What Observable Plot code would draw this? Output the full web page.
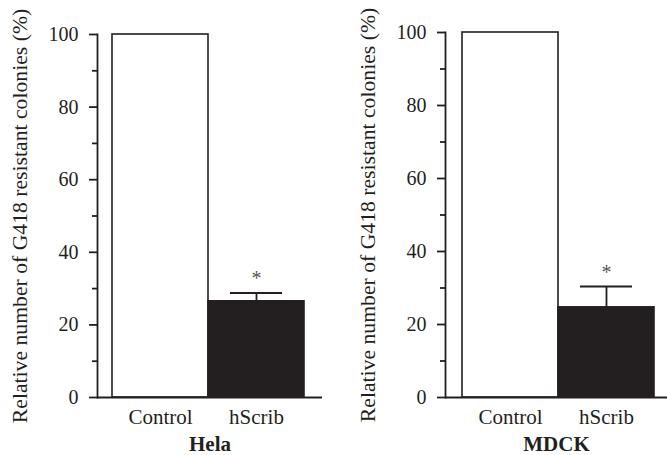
<!DOCTYPE html>
<html>
<head>
<meta charset="utf-8">
<script src="https://cdn.jsdelivr.net/npm/d3@7"></script>
<script src="https://cdn.jsdelivr.net/npm/@observablehq/plot@0.6"></script>
<style>
  html, body { margin: 0; padding: 0; background: #fff; }
  #wrap { position: relative; width: 667px; height: 455px; overflow: hidden; }
  .panel { position: absolute; top: 0; }
  g[aria-label="x-axis label"] text { font-weight: bold; }
  g[aria-label="y-axis label"] text { font-size: 21.7px; }
</style>
</head>
<body>
<div id="wrap"></div>
<script>
const groups = ["Control", "hScrib"];
const helaValues = [100, 26.5];
const helaErrors = [0, 2.3];
const mdckValues = [100, 24.7];
const mdckErrors = [0, 5.7];
const cellLines = ["Hela", "MDCK"];
const majorTicks = [0, 20, 40, 60, 80, 100];
const minorTicks = [10, 30, 50, 70, 90];
const yLabel = "Relative number of G418 resistant colonies (%)";
const INK = "#231f20";

function panel(values, errors, title, cfg) {
  const data = groups.map((g, i) => ({group: g, value: values[i], err: errors[i]}));
  const errData = data.filter(d => d.err > 0);
  return Plot.plot({
    width: cfg.width,
    height: 455,
    marginTop: cfg.marginTop,
    marginBottom: 58,
    marginLeft: cfg.marginLeft,
    marginRight: cfg.marginRight,
    style: {fontFamily: "'Liberation Serif', 'Times New Roman', serif", color: INK, background: "transparent"},
    x: {type: "band", domain: groups, range: cfg.xRange, padding: 0},
    y: {domain: [0, 100]},
    marks: [
      Plot.barY(data, {x: "group", y: "value", fill: (d, i) => i === 0 ? "#ffffff" : INK, stroke: INK, strokeWidth: 1.6}),
      Plot.ruleX(errData, {x: "group", y1: "value", y2: d => d.value + d.err, stroke: INK, strokeWidth: 1.8}),
      Plot.tickY(errData, {x: "group", y: d => d.value + d.err, stroke: INK, strokeWidth: 2, insetLeft: 22, insetRight: 22}),
      Plot.text(errData, {x: "group", y: d => d.value + d.err, text: () => "*", dy: -14, fontSize: 20, fill: "#555"}),
      Plot.ruleY([0], {stroke: INK, strokeWidth: 1.8}),
      Plot.frame({anchor: "left", stroke: INK, strokeWidth: 1.8}),
      Plot.axisY({ticks: majorTicks, tickSize: 8, tickPadding: 11, fontSize: 20, strokeWidth: 1.8,
        label: yLabel, labelAnchor: "center", labelArrow: "none", labelOffset: cfg.labelOffset}),
      Plot.axisY({ticks: minorTicks, tickSize: 5, text: null, label: null, strokeWidth: 1.8}),
      Plot.axisX({tickSize: 0, tickPadding: 12, fontSize: 21,
        label: title, labelAnchor: "center", labelArrow: "none", labelOffset: 53})
    ]
  });
}

const wrap = document.getElementById("wrap");
const left = panel(helaValues, helaErrors, cellLines[0],
  {width: 333, marginTop: 34, marginLeft: 97, marginRight: 11, xRange: [112, 304], labelOffset: 86});
const right = panel(mdckValues, mdckErrors, cellLines[1],
  {width: 334, marginTop: 32, marginLeft: 112, marginRight: 0, xRange: [128, 321], labelOffset: 86});
const d1 = document.createElement("div"); d1.className = "panel"; d1.style.left = "0px"; d1.appendChild(left);
const d2 = document.createElement("div"); d2.className = "panel"; d2.style.left = "333px"; d2.appendChild(right);
wrap.appendChild(d1); wrap.appendChild(d2);
</script>
</body>
</html>
